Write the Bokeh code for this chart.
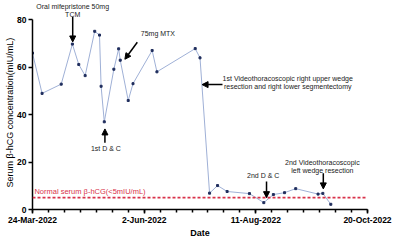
import pandas as pd
from bokeh.plotting import figure
from bokeh.models import Range1d, FixedTicker, Span, Arrow, NormalHead, ColumnDataSource, Label, Title
from bokeh.embed import file_html
from bokeh.resources import INLINE

# ---- data ----
start_date = "2022-03-24"
dates = ["2022-03-24", "2022-03-30", "2022-04-11", "2022-04-18", "2022-04-22",
         "2022-04-26", "2022-05-02", "2022-05-05", "2022-05-06", "2022-05-08",
         "2022-05-14", "2022-05-17", "2022-05-18", "2022-05-23", "2022-05-26",
         "2022-06-07", "2022-06-10", "2022-07-04", "2022-07-07", "2022-07-13",
         "2022-07-18", "2022-07-24", "2022-08-07", "2022-08-16", "2022-08-22",
         "2022-08-29", "2022-09-05", "2022-09-19", "2022-09-22", "2022-09-27"]
hcg = [66.0, 49.0, 52.9, 69.8, 61.2,
       56.5, 75.2, 73.6, 52.0, 37.0,
       59.2, 67.8, 63.0, 46.0, 53.1,
       67.1, 58.1, 67.9, 64.0, 6.9,
       10.1, 7.6, 6.7, 2.9, 6.3,
       7.1, 8.8, 6.5, 6.8, 2.2]
tick_dates = ["2022-03-24", "2022-06-02", "2022-08-11", "2022-10-20"]
tick_labels = ["24-Mar-2022", "2-Jun-2022", "11-Aug-2022", "20-Oct-2022"]
y_ticks = [0, 20, 40, 60, 80]
normal_limit = 5

t0 = pd.Timestamp(start_date)
days = [(pd.Timestamp(d) - t0).days for d in dates]
tick_days = [(pd.Timestamp(d) - t0).days for d in tick_dates]
minor_days = list(range(tick_days[0], tick_days[-1] + 1, 10))

FONT = "Liberation Sans"

p = figure(width=392, height=240, output_backend="svg", toolbar_location=None,
           x_range=Range1d(0, tick_days[-1]), y_range=Range1d(0, 88.2),
           min_border_left=32, min_border_right=25, min_border_top=0,
           min_border_bottom=26)
p.outline_line_color = None
p.grid.visible = False
p.background_fill_color = "white"
p.border_fill_color = "white"

# x axis
xa = p.xaxis[0]
xa.ticker = FixedTicker(ticks=tick_days, minor_ticks=minor_days)
xa.major_label_overrides = {d: l for d, l in zip(tick_days, tick_labels)}
xa.bounds = (tick_days[0], tick_days[-1])
xa.axis_label = "Date"
# y axis
ya = p.yaxis[0]
ya.ticker = FixedTicker(ticks=y_ticks, minor_ticks=[])
ya.bounds = (0, 80)
for ax in (xa, ya):
    ax.axis_line_width = 1.5
    ax.axis_line_color = "black"
    ax.major_tick_line_width = 1.5
    ax.minor_tick_line_width = 1.5
    ax.major_tick_in = 0
    ax.major_tick_out = 4
    ax.minor_tick_in = 0
    ax.minor_tick_out = 3
    ax.major_label_text_font = FONT
    ax.major_label_text_font_style = "bold"
    ax.major_label_text_font_size = "8.5px"
    ax.major_label_text_color = "black"
    ax.major_label_standoff = 1
    ax.axis_label_text_font = FONT
    ax.axis_label_text_font_size = "9px"
    ax.axis_label_text_font_style = "bold"
    ax.axis_label_text_color = "black"
    ax.axis_label_standoff = 0
ya.major_label_standoff = 2

# y axis title, placed so it is centred on the 0-80 axis
p.add_layout(Title(text="Serum β-hCG concentration(mIU/mL)", align="left", offset=22,
                   text_font=FONT, text_font_size="9px", text_font_style="normal",
                   text_color="black", standoff=0), "left")

# normal limit
p.add_layout(Span(location=normal_limit, dimension="width", line_color="#d8324a",
                  line_width=1.6, line_dash="3 2"))
p.add_layout(Label(x=1.2, y=7.8, text="Normal serum β-hCG(<5mIU/mL)",
                   text_font=FONT, text_font_size="7.5px", text_color="#d8324a",
                   text_baseline="middle", text_align="left"))

# data line
src = ColumnDataSource(dict(x=days, y=hcg))
p.line("x", "y", source=src, line_color="#9fb0d6", line_width=1)
p.scatter("x", "y", source=src, marker="square", size=2, color="#1f2d5c")

# annotations
ann_x = [25.2, 78.6, 46.0, 160.0, 144.6, 181.7]
ann_y = [84.1, 74.3, 25.7, 53.4, 14.3, 18.1]
ann_t = ["Oral mifepristone 50mg\nTCM", "75mg MTX", "1st D & C",
         "1st Videothoracoscopic right upper wedge\nresection and right lower segmentectomy",
         "2nd D & C", "2nd Videothoracoscopic\nleft wedge resection"]
for ax_, ay_, at_ in zip(ann_x, ann_y, ann_t):
    p.add_layout(Label(x=ax_, y=ay_, text=at_, text_font=FONT, text_font_size="7px",
                       text_color="#222222", text_align="center", text_baseline="middle",
                       text_line_height=1.15))

arrows = [(25.2, 81.2, 25.2, 70.7), (65.7, 70.6, 57.9, 63.4), (45.4, 28.2, 45.4, 34.0),
          (119.1, 52.7, 106.3, 52.7), (146.7, 11.8, 146.7, 5.0), (182.3, 15.3, 182.3, 8.7)]
for xs, ys, xe, ye in arrows:
    p.add_layout(Arrow(x_start=xs, y_start=ys, x_end=xe, y_end=ye, line_width=1.5,
                       line_color="black",
                       end=NormalHead(size=6, fill_color="black", line_color="black")))

open("out.html", "w").write(file_html(p, INLINE))
